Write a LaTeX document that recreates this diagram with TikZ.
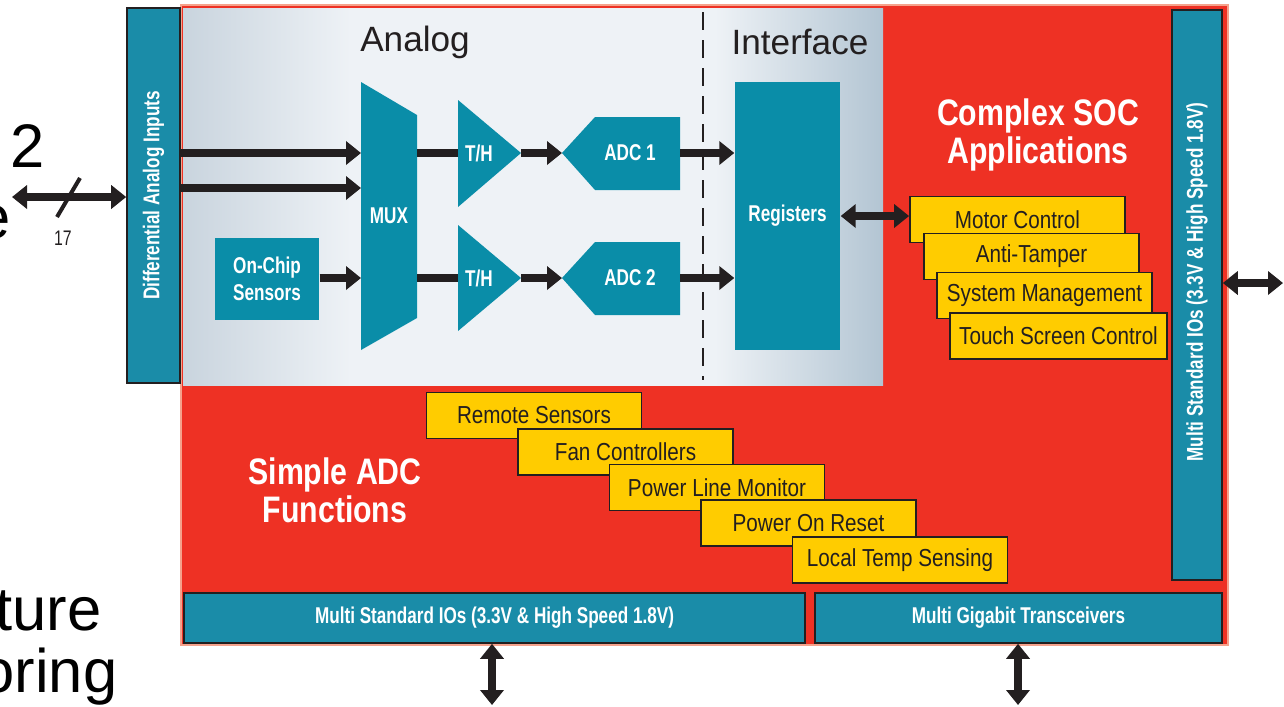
\documentclass[tikz,border=0pt]{standalone}
\usepackage{fontspec}
\setmainfont{Liberation Sans}
\newfontfamily\headfont[FakeStretch=0.82]{Liberation Sans}
\newfontfamily\blockfont[FakeStretch=0.75]{Liberation Sans}
\newfontfamily\yelfont[FakeStretch=0.84]{Liberation Sans}
\usetikzlibrary{arrows.meta}
\definecolor{cred}{HTML}{EE3124}
\definecolor{csalmon}{HTML}{F5A28C}
\definecolor{cbar}{HTML}{1A8CA8}
\definecolor{cblock}{HTML}{0A8DA8}
\definecolor{cyel}{HTML}{FFCC00}
\definecolor{cink}{HTML}{231F20}
\definecolor{cpale}{HTML}{EEF2F6}
\definecolor{cgreyl}{HTML}{C9D4DE}
\definecolor{cgreyr}{HTML}{B3C5D3}
\pgfdeclarehorizontalshading{panelshade}{100bp}{color(0bp)=(cgreyl); color(25bp)=(cgreyl);
  color(37bp)=(cpale); color(63bp)=(cpale); color(75bp)=(cgreyr); color(100bp)=(cgreyr)}
\tikzset{>={Triangle[length=1.5mm,width=2.3mm]},
  fat/.style={draw=cink,line width=0.8mm},
  iobar/.style={draw=cink,line width=0.45pt,fill=cbar,inner sep=0pt,text=white,
    font=\blockfont\bfseries\fontsize{6.5}{7.5}\selectfont},
  blk/.style={fill=cblock,inner sep=0pt,text=white,align=center,
    font=\blockfont\bfseries\fontsize{6.5}{7.8}\selectfont},
  blklab/.style={text=white,inner sep=0pt,font=\blockfont\bfseries\fontsize{6.5}{7.8}\selectfont},
  app/.style={draw=cink,line width=0.5pt,fill=cyel,minimum width=21.5mm,minimum height=4.6mm,
    inner sep=0pt,text=cink,font=\yelfont\fontsize{7}{8}\selectfont},
  hdr/.style={text=cink,font=\fontsize{10}{12}\selectfont},
  big/.style={text=white,align=center,font=\headfont\bfseries\fontsize{10.5}{10.8}\selectfont},
  slide/.style={text=black,anchor=base east,inner sep=0pt,font=\fontsize{17.5}{20}\selectfont},
}

\begin{document}
\begin{tikzpicture}[x=0.1mm,y=-0.1mm]
  \useasboundingbox (0,0) rectangle (1284,706);
  % slide text left of the block diagram
  \node[slide] (s2) at (45,167) {2};
  \node[slide] (se) at (11,238) {e};
  \node[slide] (sture) at (102,630) {ture};
  \node[slide] (soring) at (118,692) {oring};

  % FPGA fabric and the analog/interface panel
  \fill[cred,draw=csalmon,line width=0.6pt] (181,5) rectangle (1228,645);
  \shade[shading=panelshade] (183,8) rectangle (883,385);
  \draw[cink,line width=0.22mm,dash pattern=on 1.8mm off 1mm] (703,12) -- (703,380);
  \node[hdr] (analog) at (415,42) {Analog};
  \node[hdr] (iface) at (800,42) {Interface};

  % IO banks
  \node[iobar,rotate=90,minimum width=37.5mm,minimum height=5.3mm] (dai) at (153.5,195.5) {Differential Analog Inputs};
  \node[iobar,rotate=90,minimum width=57mm,minimum height=5mm] (sio) at (1197,295) {\hspace*{2.6mm}Multi Standard IOs (3.3V \& High Speed 1.8V)};
  \node[iobar,minimum width=62.1mm,minimum height=5mm] (mio) at (494.5,618) {Multi Standard IOs (3.3V \& High Speed 1.8V)};
  \node[iobar,minimum width=40.7mm,minimum height=5mm] (gio) at (1018.5,618) {Multi Gigabit Transceivers};

  % analog chain
  \node[blk,minimum width=10.4mm,minimum height=8.2mm] (chip) at (267,279) {On-Chip\\Sensors};
  \fill[cblock] (361,82) -- (417,115) -- (417,318) -- (361,350) -- cycle;
  \node[blklab] (mux) at (389,216) {MUX};
  \fill[cblock] (458,100) -- (521,153) -- (458,207) -- cycle;
  \fill[cblock] (458,225) -- (521,278) -- (458,331) -- cycle;
  \node[blklab] (th1) at (479,153) {T/H};
  \node[blklab] (th2) at (479,278) {T/H};
  \fill[cblock] (562,153) -- (595,117) -- (680,117) -- (680,190) -- (595,190) -- cycle;
  \fill[cblock] (562,278) -- (595,242) -- (680,242) -- (680,315) -- (595,315) -- cycle;
  \node[blklab] (adc1) at (630,153) {ADC 1};
  \node[blklab] (adc2) at (630,278) {ADC 2};
  \node[blk,minimum width=10.5mm,minimum height=26.8mm] (regs) at (787.5,216) {Registers};

  \coordinate (muxa) at (361,153);
  \coordinate (muxb) at (361,188);
  \coordinate (muxc) at (361,278);
  \coordinate (muxo1) at (417,153);
  \coordinate (muxo2) at (417,278);
  \coordinate (th1in) at (458,153);
  \coordinate (th2in) at (458,278);
  \coordinate (th1out) at (521,153);
  \coordinate (th2out) at (521,278);
  \coordinate (adc1in) at (562,153);
  \coordinate (adc2in) at (562,278);
  \coordinate (adc1out) at (680,153);
  \coordinate (adc2out) at (680,278);

  \draw[fat,->] (dai.south |- muxa) -- (muxa);
  \draw[fat,->] (dai.south |- muxb) -- (muxb);
  \draw[fat,->] (chip.east |- muxc) -- (muxc);
  \draw[fat] (muxo1) -- (th1in);
  \draw[fat] (muxo2) -- (th2in);
  \draw[fat,->] (th1out) -- (adc1in);
  \draw[fat,->] (th2out) -- (adc2in);
  \draw[fat,->] (adc1out) -- (regs.west |- adc1out);
  \draw[fat,->] (adc2out) -- (regs.west |- adc2out);

  % application boxes
  \node[big] (soc) at (1038,135) {Complex SOC\\Applications};
  \node[big] (simple) at (335,490) {Simple ADC\\Functions};
  \node[app] (motor) at (1017.5,219.5) {Motor Control};
  \node[app] (tamper) at (1031.5,256.5) {Anti-Tamper};
  \node[app] (sysman) at (1044.5,295.5) {System Management};
  \node[app,minimum width=21.7mm] (touch) at (1058.5,336) {Touch Screen Control};
  \node[app] (remote) at (534,415.5) {Remote Sensors};
  \node[app] (fan) at (625.5,452) {Fan Controllers};
  \node[app] (plm) at (717,487.5) {Power Line Monitor};
  \node[app] (por) at (808.5,523) {Power On Reset};
  \node[app] (temp) at (900,560) {Local Temp Sensing};
  \draw[fat,<->] (regs.east) -- (regs.east -| motor.west);

  % external ports
  \coordinate (lin) at (12,197);
  \coordinate (rout) at (1283,283);
  \coordinate (bout) at (492,705);
  \coordinate (gout) at (1018,705);
  \draw[fat,<->] (lin) -- (dai.north |- lin);
  \draw[cink,line width=0.4mm] (57,217) -- (80,178);
  \node[text=cink,font=\blockfont\fontsize{6}{7}\selectfont] (bus) at (63,238) {17};
  \draw[fat,<->] (sio.south |- rout) -- (rout);
  \draw[fat,<->] (mio.south -| bout) -- (bout);
  \draw[fat,<->] (gio.south -| gout) -- (gout);
\end{tikzpicture}
\end{document}
